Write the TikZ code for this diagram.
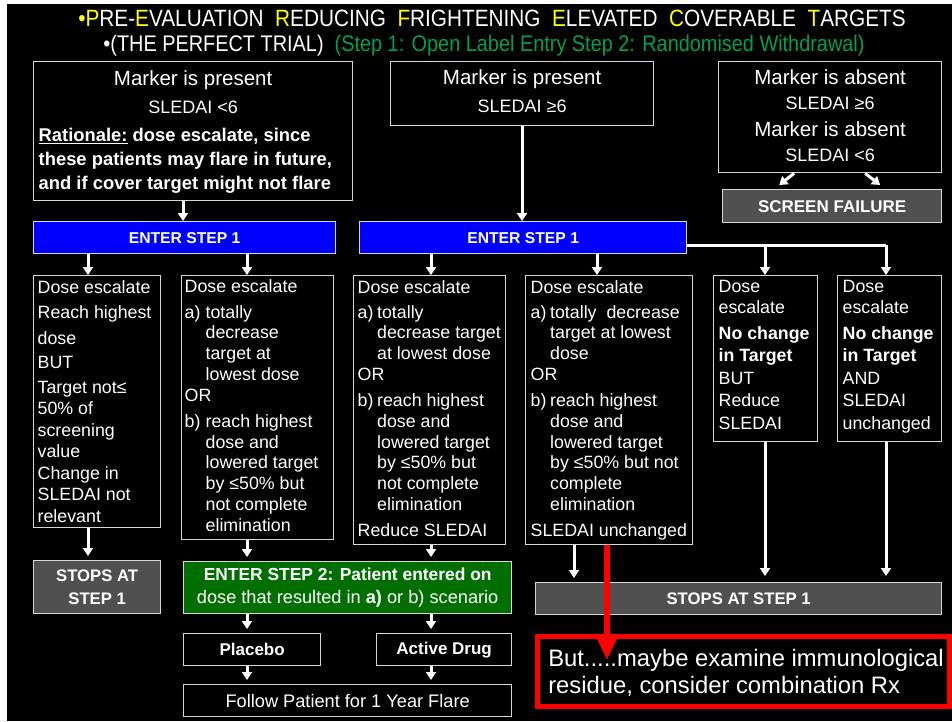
\documentclass[tikz,border=0pt]{standalone}
\usepackage{fontspec}
\setmainfont{Liberation Sans}
\newfontfamily\narrowfont{Liberation Sans}[FakeStretch=0.88]
\usetikzlibrary{arrows.meta}

\definecolor{edge}{RGB}{215,215,215}
\definecolor{stepblue}{RGB}{0,0,255}
\definecolor{stepgreen}{RGB}{0,110,0}
\definecolor{stopgray}{RGB}{80,80,80}
\definecolor{hiyellow}{RGB}{255,255,0}
\definecolor{subgreen}{RGB}{0,160,80}
\definecolor{warnred}{RGB}{255,0,0}

\newlength\hang
\newcommand\lab[1]{\makebox[\hang][l]{#1}}
\newcommand\ind{\hspace*{\hang}}
\newcommand\boxtxt[3]{\parbox[c][#2pt][t]{#1pt}{#3}}
\newcommand\ctr[3]{{\centering\fontsize{#1}{#2}\selectfont #3\par}}
\newcommand\body[2]{\raggedright\leftskip=#1pt\relax\fontsize{17.8}{#2}\selectfont}
\newcommand\yl[1]{\textcolor{hiyellow}{#1}}

\tikzset{
  box/.style={draw=edge, line width=1.3pt, fill=black, text=white, inner sep=0pt, anchor=north west},
  bar/.style={box, fill=stepblue, font=\bfseries\fontsize{15.7}{18}\selectfont},
  stop/.style={box, fill=stopgray, align=center, font=\bfseries\fontsize{16.7}{23}\selectfont},
  heading/.style={text=white, font=\narrowfont\fontsize{22.6}{26}\selectfont},
  arr/.style={draw=white, line width=3pt, -{Triangle[width=10pt,length=8pt]}},
  arrs/.style={arr, shorten >=4pt},
  wline/.style={draw=white, line width=3pt},
  redarr/.style={draw=warnred, line width=6pt, -{Triangle[width=19pt,length=22pt]}}
}

\begin{document}
\begin{tikzpicture}[x=1pt,y=-1pt]
\useasboundingbox (0,0) rectangle (952,721);
\fill[white] (0,0) rectangle (952,721);
\fill[black] (7,4) rectangle (952,721);

% heading
\node[heading, font=\narrowfont\fontsize{23.6}{26}\selectfont] (head) at (492,18)
  {\yl{•P}RE-\yl{E}VALUATION\ \ \yl{R}EDUCING\ \ \yl{F}RIGHTENING\ \ \yl{E}LEVATED\ \ \yl{C}OVERABLE\ \ \yl{T}ARGETS};
\node[heading] (subhead) at (484,46)
  {•(THE PERFECT TRIAL)\ \ \textcolor{subgreen}{(Step 1: Open Label Entry Step 2: Randomised Withdrawal)}};

% columns for the connectors
\coordinate (xm) at (183,0);
\coordinate (xn) at (522,0);
\coordinate (xa) at (88,0);
\coordinate (xb) at (247,0);
\coordinate (xc) at (431,0);
\coordinate (xd) at (597,0);
\coordinate (xe) at (765,0);
\coordinate (xf) at (886,0);
\coordinate (xg) at (574,0);
\coordinate (brk) at (0,245);
\coordinate (tipred) at (607,660);

% screening boxes
\node[box] (lowpres) at (33,61) {\boxtxt{319}{139}{%
  \ctr{20.5}{10}{\rule{0pt}{23.4pt}Marker is present}%
  \ctr{18}{28.1}{SLEDAI <6}%
  {\vspace{4.1pt}\raggedright\leftskip=5pt\fontsize{18.4}{24}\selectfont\bfseries
   \underline{Rationale:} dose escalate, since\\
   these patients may flare in future,\\
   and if cover target might not flare\par}}};
\node[box] (highpres) at (390,61) {\boxtxt{263}{64}{%
  \ctr{20.5}{10}{\rule{0pt}{22.4pt}Marker is present}%
  \ctr{18}{28.1}{SLEDAI ≥6}}};
\node[box] (absent) at (718,61) {\boxtxt{223}{111}{%
  \ctr{20.5}{10}{\rule{0pt}{22.4pt}Marker is absent}%
  \ctr{18}{25.1}{SLEDAI ≥6}%
  \ctr{20.5}{26.9}{Marker is absent}%
  \ctr{18}{25.1}{SLEDAI <6}}};
\node[box, fill=stopgray, minimum width=219pt, minimum height=33pt, font=\bfseries\fontsize{17}{20}\selectfont] (fail) at (722,189) {SCREEN FAILURE};

% step 1
\node[bar, minimum width=302pt, minimum height=32pt] (stepa) at (33,221) {ENTER STEP 1};
\node[bar, minimum width=327pt, minimum height=32pt] (stepb) at (359,221) {ENTER STEP 1};

% outcomes of step 1
\node[box] (r1) at (33,275) {\boxtxt{127}{252}{\body{4}{21.5}%
  \rule{0pt}{17.4pt}Dose escalate\\[3.5pt]
  Reach highest\\[4.5pt]
  dose\\[2.5pt]
  BUT\\[3.5pt]
  Target not≤\\
  50\% of\\
  screening\\
  value\\
  Change in\\
  SLEDAI not\\
  relevant\par}};
\node[box] (r2) at (181,275) {\boxtxt{152}{264}{\body{3}{20.8}\setlength\hang{21pt}%
  \rule{0pt}{16.4pt}Dose escalate\\[5.2pt]
  \lab{a)}totally\\
  \ind decrease\\
  \ind target at\\
  \ind lowest dose\\
  OR\\[5.2pt]
  \lab{b)}reach highest\\
  \ind dose and\\
  \ind lowered target\\
  \ind by ≤50\% but\\
  \ind not complete\\
  \ind elimination\par}};
\node[box] (r3) at (353,275) {\boxtxt{152}{269}{\body{4}{20.8}\setlength\hang{19.5pt}%
  \rule{0pt}{17.4pt}Dose escalate\\[4.2pt]
  \lab{a)}totally\\
  \ind decrease target\\
  \ind at lowest dose\\
  OR\\[5.2pt]
  \lab{b)}reach highest\\
  \ind dose and\\
  \ind lowered target\\
  \ind by ≤50\% but\\
  \ind not complete\\
  \ind elimination\\[5.2pt]
  Reduce SLEDAI\par}};
\node[box] (r4) at (525,275) {\boxtxt{167}{269}{\body{5}{20.8}\setlength\hang{19.5pt}%
  \rule{0pt}{17.4pt}Dose escalate\\[4.2pt]
  \lab{a)}totally~ decrease\\
  \ind target at lowest\\
  \ind dose\\
  OR\\[5.2pt]
  \lab{b)}reach highest\\
  \ind dose and\\
  \ind lowered target\\
  \ind by ≤50\% but not\\
  \ind complete\\
  \ind elimination\\[5.2pt]
  SLEDAI unchanged\par}};
\node[box] (r5) at (713,275) {\boxtxt{104}{166}{\body{5}{22.5}%
  \rule{0pt}{16.4pt}Dose\\[-1.5pt]
  escalate\\[3.5pt]
  \textbf{No change}\\
  \textbf{in Target}\\
  BUT\\
  Reduce\\
  SLEDAI\par}};
\node[box] (r6) at (837,275) {\boxtxt{104}{166}{\body{5}{22.5}%
  \rule{0pt}{16.4pt}Dose\\[-1.5pt]
  escalate\\[3.5pt]
  \textbf{No change}\\
  \textbf{in Target}\\
  AND\\
  SLEDAI\\
  unchanged\par}};

% step 2 and stops
\node[stop, minimum width=127pt, minimum height=53pt] (stopa) at (33,560) {STOPS AT\\STEP 1};
\node[box, fill=stepgreen, minimum width=328pt, minimum height=52pt, align=center, font=\fontsize{17.4}{23}\selectfont] (stepc) at (183,561)
  {\textbf{ENTER STEP 2: Patient entered on}\\
   {\fontsize{18.2}{23}\selectfont dose that resulted in \textbf{a)} or b) scenario}};
\node[stop, minimum width=406pt, minimum height=32pt] (stopb) at (535,582) {STOPS AT STEP 1};
\node[box, minimum width=137pt, minimum height=32pt, font=\bfseries\fontsize{17}{20}\selectfont] (placebo) at (183,633) {Placebo};
\node[box, minimum width=135pt, minimum height=32pt, font=\bfseries\fontsize{17}{20}\selectfont] (active) at (376,633) {Active Drug};
\node[box, minimum width=328pt, minimum height=32pt, font=\fontsize{18.2}{20}\selectfont] (follow) at (183,684) {Follow Patient for 1 Year Flare};
\node[box, draw=warnred, line width=4.5pt] (note) at (535,634) {\boxtxt{412}{70}{%
  \raggedright\leftskip=11pt\fontsize{23.8}{27}\selectfont
  \rule{0pt}{30.6pt}But.....maybe examine immunological\\
  residue, consider combination Rx\par}};

% connectors
\draw[arr] (lowpres.south -| xm) -- (stepa.north -| xm);
\draw[arr] (highpres.south -| xn) -- (stepb.north -| xn);
\draw[arr] ([xshift=-36pt]absent.south) -- ([xshift=-53pt,yshift=4pt]fail.north);
\draw[arr] ([xshift=35pt]absent.south) -- ([xshift=48pt,yshift=4pt]fail.north);
\draw[arr] (stepa.south -| xa) -- (r1.north -| xa);
\draw[arr] (stepa.south -| xb) -- (r2.north -| xb);
\draw[arr] (stepb.south -| xc) -- (r3.north -| xc);
\draw[arr] (stepb.south -| xd) -- (r4.north -| xd);
\draw[wline] (stepb.east |- brk) -- (brk -| xf);
\draw[arr] (brk -| xe) -- (r5.north -| xe);
\draw[arr] (brk -| xf) -- (r6.north -| xf);
\draw[arrs] (r1.south -| xa) -- (stopa.north -| xa);
\draw[arrs] (r2.south -| xb) -- (stepc.north -| xb);
\draw[arrs] (r3.south -| xc) -- (stepc.north -| xc);
\draw[arrs] (stepc.south -| xb) -- (placebo.north -| xb);
\draw[arrs] (stepc.south -| xc) -- (active.north -| xc);
\draw[arrs] (placebo.south -| xb) -- (follow.north -| xb);
\draw[arrs] (active.south -| xc) -- (follow.north -| xc);
\draw[arrs] (r4.south -| xg) -- (stopb.north -| xg);
\draw[arr, shorten >=6pt] (r5.south -| xe) -- (stopb.north -| xe);
\draw[arr, shorten >=6pt] (r6.south -| xf) -- (stopb.north -| xf);
\draw[redarr] (r4.south -| tipred) -- (tipred);
\end{tikzpicture}
\end{document}
